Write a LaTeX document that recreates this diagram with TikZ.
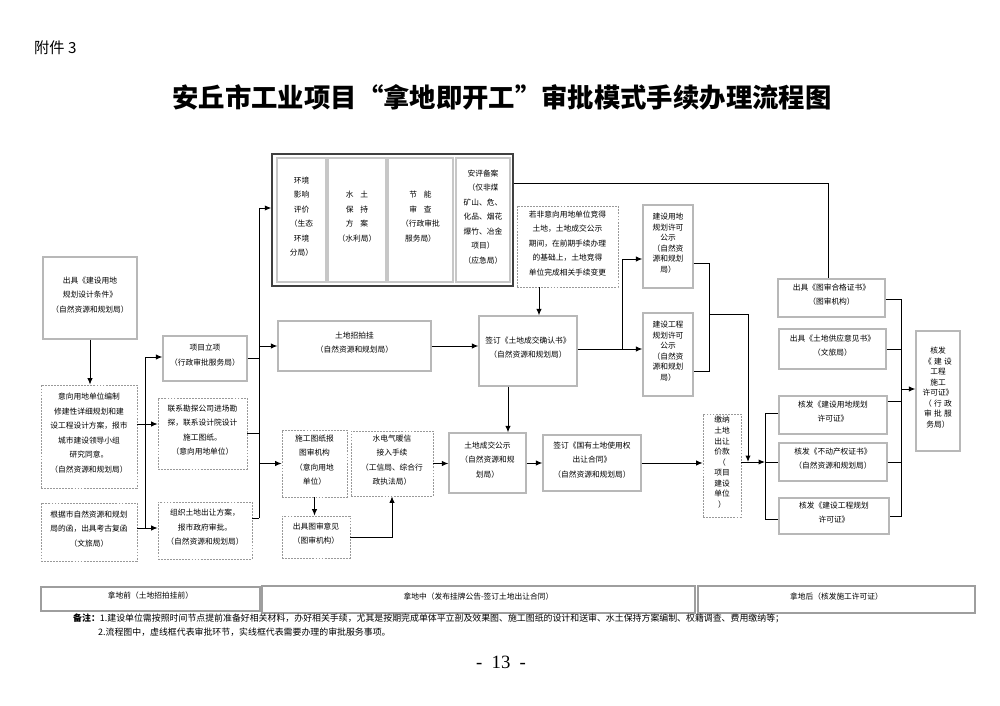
\documentclass[tikz,border=0pt]{standalone}
\usepackage{fontspec}
\setmainfont{Noto Sans CJK SC}
\newfontfamily\PageFont{Liberation Serif}
\usepackage{tikz}
\usetikzlibrary{fit}
\usetikzlibrary{arrows.meta}
\newcommand{\BoxFont}{\fontsize{6.6}{12.4}\selectfont}
\newcommand{\NarrowFont}{\fontsize{6.6}{9}\selectfont}
\newcommand{\NoteFont}{\fontsize{7.6}{9}\selectfont}
\newcommand{\Gap}{\hspace{.9em}}
\newcommand{\Sp}{\hspace{.3em}}
\tikzstyle{Box}=[draw=black!28,line width=1pt,inner sep=0pt,align=center,
font=\BoxFont]
\tikzstyle{DashBox}=[Box,draw=black!40,line width=.6pt,
dash pattern=on 1.6pt off 1pt]
\tikzstyle{Inner}=[Box,draw=black!22,line width=1.4pt]
\tikzstyle{Frame}=[draw=black!75,line width=1.2pt,inner sep=0pt]
\tikzstyle{Tab}=[draw=black!38,line width=1.6pt,inner sep=0pt,font=\BoxFont]
\tikzstyle{Edge}=[draw=black,line width=.8pt]
\tikzstyle{Arrow}=[Edge,-{Latex[length=5.5pt,width=4.5pt]}]

\begin{document}
\begin{tikzpicture}[x=.03cm,y=-.03cm]
        \useasboundingbox (0,0) rectangle (1000,706);
        \node[font=\fontsize{13}{13}\selectfont,anchor=west](fj)at(30,48){附件 3};
        \node[font=\fontsize{22.5}{22.5}\selectfont\bfseries](tt)at(502,97)
            {安丘市工业项目“拿地即开工”审批模式手续办理流程图};
        % before getting the land
        \node[Box,fit={(43,257)(137,339)}](tj)
            {出具《建设用地\\规划设计条件》\\（自然资源和规划局）};
        \node[DashBox,fit={(41,385)(137,488)}](yx)
            {意向用地单位编制\\修建性详细规划和建\\设工程设计方案，报市\\城市建设领导小组\\研究同意。\\（自然资源和规划局）};
        \node[DashBox,fit={(41,503)(137,561)}](gj)
            {根据市自然资源和规划\\局的函，出具考古复函\\（文旅局）};
        \node[Box,fit={(163,336)(247,381)}](xm){项目立项\\（行政审批服务局）};
        \node[DashBox,fit={(158,398)(247,469)}](lx)
            {联系勘探公司进场勘\\探，联系设计院设计\\施工图纸。\\（意向用地单位）};
        \node[DashBox,fit={(158,502)(252,559)}](zz)
            {组织土地出让方案，\\报市政府审批。\\（自然资源和规划局）};
        % top frame
        \node[Frame,fit={(272,154)(513,286)}](hp){};
        \node[Inner,align=left,fit={(277,158)(326,282)}](hj)
            {环境\\影响\\评价\\（生态\\环境\\分局）};
        \node[Inner,fit={(328,158)(386,282)}](st)
            {水\Gap 土\\保\Gap 持\\方\Gap 案\\（水利局）};
        \node[Inner,fit={(388,158)(453,282)}](je)
            {节\Gap 能\\审\Gap 查\\（行政审批\\服务局）};
        \node[Inner,fit={(456,158)(510,282)}](ap)
            {安评备案\\（仅非煤\\矿山、危、\\化品、烟花\\爆竹、冶金\\项目）\\（应急局）};
        % getting the land
        \node[Box,fit={(278,321)(431,371)}](zp){土地招拍挂\\（自然资源和规划局）};
        \node[DashBox,fit={(517,206)(618,287)}](rf)
            {若非意向用地单位竞得\\土地，土地成交公示\\期间，在前期手续办理\\的基础上，土地竞得\\单位完成相关手续变更};
        \node[Box,fit={(479,316)(577,386)}](cj)
            {签订《土地成交确认书》\\（自然资源和规划局）};
        \node[DashBox,fit={(282,430)(347,497)}](sg)
            {施工图纸报\\图审机构\\（意向用地\\单位）};
        \node[DashBox,fit={(351,431)(433,496)}](sd)
            {水电气暖信\\接入手续\\（工信局、综合行\\政执法局）};
        \node[DashBox,fit={(282,516)(350,558)}](ty){出具图审意见\\（图审机构）};
        \node[Box,fit={(449,433)(526,493)}](cg)
            {土地成交公示\\（自然资源和规\\划局）};
        \node[Box,fit={(543,435)(641,491)}](gy)
            {签订《国有土地使用权\\出让合同》\\（自然资源和规划局）};
        % after getting the land
        \node[Box,font=\NarrowFont,fit={(643,205)(693,288)}](yg)
            {建设用地\\规划许可\\公示\\（自然资\\源和规划\\局）};
        \node[Box,font=\NarrowFont,fit={(643,313)(693,396)}](gc)
            {建设工程\\规划许可\\公示\\（自然资\\源和规划\\局）};
        \node[DashBox,font=\NarrowFont,fit={(703,414)(741,517)}](jn)
            {缴纳\\土地\\出让\\价款\\（\\项目\\建设\\单位\\）};
        \node[Box,fit={(778,279)(885,317)}](tsh){出具《图审合格证书》\\（图审机构）};
        \node[Box,fit={(779,329)(886,369)}](gs){出具《土地供应意见书》\\（文旅局）};
        \node[Box,fit={(779,396)(887,434)}](hy){核发《建设用地规划\\许可证》};
        \node[Box,fit={(779,443)(887,481)}](bd)
            {核发《不动产权证书》\\（自然资源和规划局）};
        \node[Box,fit={(779,498)(889,534)}](hg){核发《建设工程规划\\许可证》};
        \node[Box,font=\NarrowFont,fit={(916,331)(960,451)}](sx)
            {核发\\《\Sp 建\Sp 设\\工程\\施工\\许可证》\\（\Sp 行\Sp 政\\审\Sp 批\Sp 服\\务局）};
        % stages and notes
        \node[Tab,fit={(41,587)(260,611)}](t1){拿地前（土地招拍挂前）};
        \node[Tab,fit={(262,586)(695,613)}](t2){拿地中（发布挂牌公告-签订土地出让合同）};
        \node[Tab,fit={(698,586)(975,613)}](t3){拿地后（核发施工许可证）};
        \node[anchor=west,inner sep=0pt,font=\NoteFont](bz1)at(73,618)
            {\textbf{备注：}1.建设单位需按照时间节点提前准备好相关材料，办好相关手续，尤其是按期完成单体平立剖及效果图、施工图纸的设计和送审、水土保持方案编制、权籍调查、费用缴纳等；};
        \node[anchor=west,inner sep=0pt,font=\NoteFont](bz2)at(98,632)
            {2.流程图中，虚线框代表审批环节，实线框代表需要办理的审批服务事项。};
        \node[font=\PageFont\fontsize{16}{16}\selectfont](ym)at(501,662){-\hspace{.5em}13\hspace{.5em}-};
        % junctions
        \coordinate(la)at(145,357);
        \coordinate(lb)at(145,528);
        \coordinate(lc)at(145,424);
        \coordinate(ma)at(259,208);
        \coordinate(mb)at(259,518);
        \coordinate(ta)at(828,183);
        \coordinate(ra)at(539,300);
        \coordinate(rc)at(508,400);
        \coordinate(ga)at(622,259);
        \coordinate(gb)at(622,349);
        \coordinate(pa)at(709,263);
        \coordinate(pb)at(709,371);
        \coordinate(pc)at(709,314);
        \coordinate(pd)at(748,314);
        \coordinate(ka)at(765,413);
        \coordinate(kb)at(765,519);
        \coordinate(kc)at(765,462);
        \coordinate(qa)at(901,299);
        \coordinate(qb)at(901,516);
        \coordinate(qc)at(901,389);
        \coordinate(qd)at(901,401);
        % connectors
        \draw[Arrow](tj.south)--(tj.south|-yx.north);
        \draw[Arrow](yx.east|-lc)--(lx.west|-lc);
        \draw[Edge](la)--(lb);
        \draw[Edge](gj.east|-lb)--(lb);
        \draw[Arrow](la)--(xm.west|-la);
        \draw[Arrow](lb)--(zz.west|-lb);
        \draw[Edge](ma)--(mb);
        \draw[Edge](xm.east)--(xm.east-|ma);
        \draw[Edge](lx.east)--(lx.east-|ma);
        \draw[Edge](zz.east|-mb)--(mb);
        \draw[Arrow](ma)--(hp.west|-ma);
        \draw[Arrow](ma|-zp)--(zp.west);
        \draw[Arrow](ma|-sg)--(sg.west);
        \draw[Edge](hp.east|-ta)--(ta)--(ta|-tsh.north);
        \draw[Arrow](rf.south-|ra)--(cj.north-|ra);
        \draw[Arrow](zp.east)--(zp.east-|cj.west);
        \draw[Arrow](cj.south-|rc)--(cg.north-|rc);
        \draw[Edge](cj.east|-gb)--(gb)--(ga);
        \draw[Arrow](ga)--(yg.west|-ga);
        \draw[Arrow](gb)--(gc.west|-gb);
        \draw[Arrow](sg.south)--(sg.south|-ty.north);
        \draw[Arrow](ty.east)-|(sd.south);
        \draw[Arrow](sd.east)--(sd.east-|cg.west);
        \draw[Arrow](cg.east)--(cg.east-|gy.west);
        \draw[Arrow](gy.east)--(gy.east-|jn.west);
        \draw[Edge](yg.east|-pa)--(pa)--(pb)--(gc.east|-pb);
        \draw[Arrow](pc)--(pd)--(pd|-kc);
        \draw[Arrow](jn.east|-kc)--(kc);
        \draw[Edge](ka)--(kb);
        \draw[Edge](ka)--(hy.west|-ka);
        \draw[Edge](kc)--(bd.west|-kc);
        \draw[Edge](kb)--(hg.west|-kb);
        \draw[Edge](tsh.east|-qa)--(qa)--(qb)--(hg.east|-qb);
        \draw[Edge](gs.east)--(gs.east-|qa);
        \draw[Edge](hy.east|-qd)--(qd);
        \draw[Edge](bd.east)--(bd.east-|qa);
        \draw[Arrow](qc)--(sx.west|-qc);
    \end{tikzpicture}
\end{document}
